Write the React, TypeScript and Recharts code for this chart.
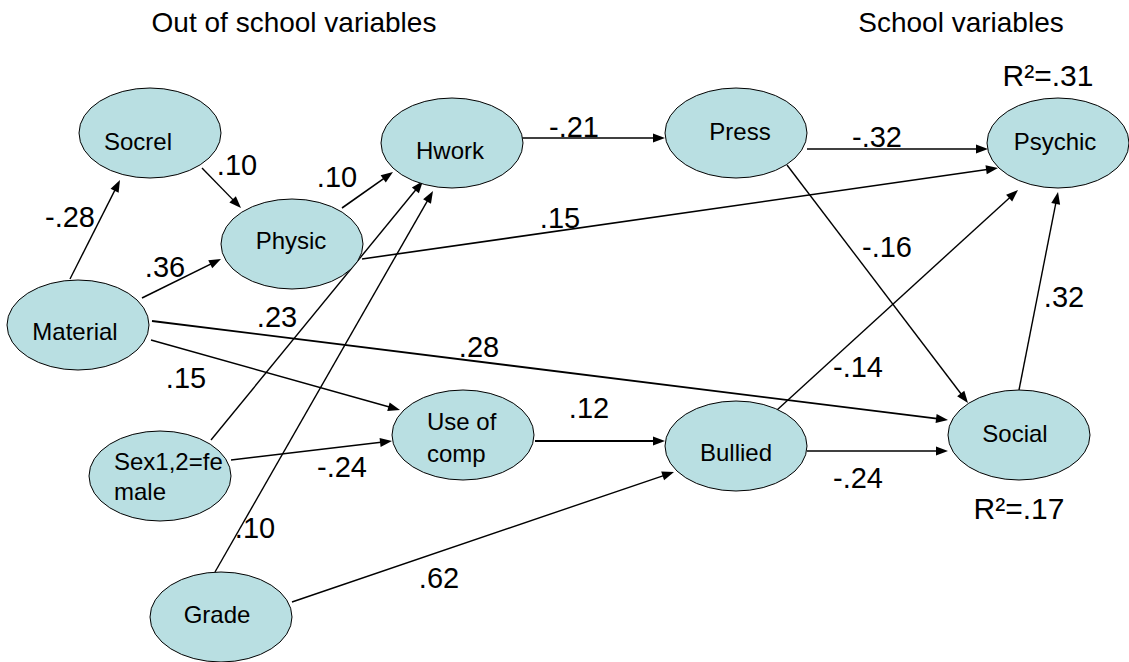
import React from 'react';
import { ScatterChart, Scatter, XAxis, YAxis, ReferenceLine } from 'recharts';

// ---- Nodes (diagram coordinates) ----
const nodeNames = ['Socrel', 'Physic', 'Hwork', 'Material', 'Press', 'Psychic', 'Use of\ncomp', 'Sex1,2=fe\nmale', 'Grade', 'Bullied', 'Social'];
const nodeX = [150, 292, 452, 78, 736, 1058, 463, 160, 221, 736, 1019];
const nodeY = [133, 244, 143, 325, 133, 143, 435, 476, 617, 446, 435];

// ---- Paths (from point -> to point, arrow at the end) ----
const edgeX1 = [70, 202, 142, 342, 211, 215, 522, 807, 362, 787, 777, 1019, 152, 151, 231, 535, 292, 807];
const edgeY1 = [279, 168, 298, 208, 440, 572, 138, 149, 259, 165, 410, 390, 321, 340, 460, 441, 602, 451];
const edgeX2 = [120, 241, 221, 393, 423, 433, 665, 988, 998, 968, 1018, 1058, 948, 400, 392, 665, 674, 948];
const edgeY2 = [180, 208, 259, 172, 181, 191, 138, 149, 168, 403, 190, 192, 420, 410, 441, 441, 472, 451];
const edgeW = [1.4, 1.4, 1.6, 1.6, 1.4, 1.4, 1.4, 1.4, 1.6, 1.4, 1.4, 1.4, 1.8, 1.4, 1.4, 1.8, 1.4, 1.6];

// ---- Path coefficients ----
const coefText = ['-.28', '.10', '.10', '.36', '.23', '-.21', '-.32', '.15', '-.16', '.32', '.28', '.15', '-.14', '.12', '-.24', '-.24', '.10', '.62'];
const coefX = [70, 237, 337, 165, 277, 574, 877, 560, 887, 1064, 479, 186, 858, 589, 342, 858, 255, 439];
const coefY = [217, 165, 177, 267, 317, 127, 137, 218, 247, 297, 347, 378, 367, 408, 467, 478, 528, 578];

// ---- Headings and R² ----
const noteText = ['Out of school variables', 'School variables', 'R²=.31', 'R²=.17'];
const noteX = [294, 961, 1048, 1019];
const noteY = [22, 22, 75, 508];

const W = 1129;
const H = 662;
const FONT = '"Liberation Sans", Arial, Helvetica, sans-serif';

// label placement inside each ellipse (styling only)
const labelOffset: Record<string, [number, number]> = {
  Socrel: [-12, 8],
  Physic: [-1, -4],
  Hwork: [-2, 7],
  Material: [-3, 6],
  Press: [4, -2],
  Psychic: [-3, -2],
  Grade: [-4, -3],
  Bullied: [0, 6],
  Social: [-4, -2],
};
const multiLine: Record<string, { dx: number; b1: number; b2: number }> = {
  'Use of\ncomp': { dx: -36, b1: -5, b2: 27 },
  'Sex1,2=fe\nmale': { dx: -46, b1: -6, b2: 24 },
};

const nodes = nodeNames.map((name, i) => ({ x: nodeX[i], y: nodeY[i], name }));
const coefs = coefText.map((t, i) => ({ x: coefX[i], y: coefY[i], text: t, kind: 'coef' }));
const notes = noteText.map((t, i) => ({ x: noteX[i], y: noteY[i], text: t, kind: i < 2 ? 'head' : 'r2' }));

const NodeShape = (props: any) => {
  const { cx, cy, payload } = props;
  const name: string = payload.name;
  const ml = multiLine[name];
  const lines = name.split('\n');
  const off = labelOffset[name] || [0, 0];
  return (
    <g>
      <ellipse cx={cx} cy={cy} rx={71} ry={45} fill="#b9dfe2" stroke="#000" strokeWidth={1} />
      {!ml ? (
        <text x={cx + off[0]} y={cy + off[1]} textAnchor="middle" dominantBaseline="central" fontSize={24} fontFamily={FONT} fill="#000">
          {lines[0]}
        </text>
      ) : (
        <g>
          <text x={cx + ml.dx} y={cy + ml.b1} fontSize={24} fontFamily={FONT} fill="#000">{lines[0]}</text>
          <text x={cx + ml.dx} y={cy + ml.b2} fontSize={24} fontFamily={FONT} fill="#000">{lines[1]}</text>
        </g>
      )}
    </g>
  );
};

const sizeOf: Record<string, number> = { coef: 29, head: 28, r2: 30 };

const TextShape = (props: any) => {
  const { cx, cy, payload } = props;
  return (
    <text x={cx} y={cy} textAnchor="middle" dominantBaseline="central" fontSize={sizeOf[payload.kind]} fontFamily={FONT} fill="#000">
      {payload.text}
    </text>
  );
};

const ArrowShape = (props: any) => {
  const { x1, y1, x2, y2, sw } = props;
  const dx = x2 - x1;
  const dy = y2 - y1;
  const len = Math.hypot(dx, dy) || 1;
  const ux = dx / len;
  const uy = dy / len;
  const L = 12;
  const hw = 4.5;
  const bx = x2 - ux * L;
  const by = y2 - uy * L;
  const pts = `${x2},${y2} ${bx - uy * hw},${by + ux * hw} ${bx + uy * hw},${by - ux * hw}`;
  return (
    <g>
      <line x1={x1} y1={y1} x2={bx + ux} y2={by + uy} stroke="#000" strokeWidth={sw} />
      <polygon points={pts} fill="#000" />
    </g>
  );
};

export default function App() {
  return (
    <div style={{ position: 'absolute', left: 0, top: 0, width: W, height: H, background: '#fff' }}>
      <ScatterChart width={W} height={H} margin={{ top: 0, right: 0, bottom: 0, left: 0 }}>
        <XAxis type="number" dataKey="x" domain={[0, W]} hide />
        <YAxis type="number" dataKey="y" domain={[0, H]} reversed hide />
        <Scatter data={nodes} shape={NodeShape} isAnimationActive={false} />
        {edgeX1.map((x1, i) => (
          <ReferenceLine
            key={i}
            ifOverflow="visible"
            segment={[{ x: x1, y: edgeY1[i] }, { x: edgeX2[i], y: edgeY2[i] }]}
            shape={(p: any) => <ArrowShape {...p} sw={edgeW[i]} />}
          />
        ))}
        <Scatter data={coefs} shape={TextShape} isAnimationActive={false} />
        <Scatter data={notes} shape={TextShape} isAnimationActive={false} />
      </ScatterChart>
    </div>
  );
}
